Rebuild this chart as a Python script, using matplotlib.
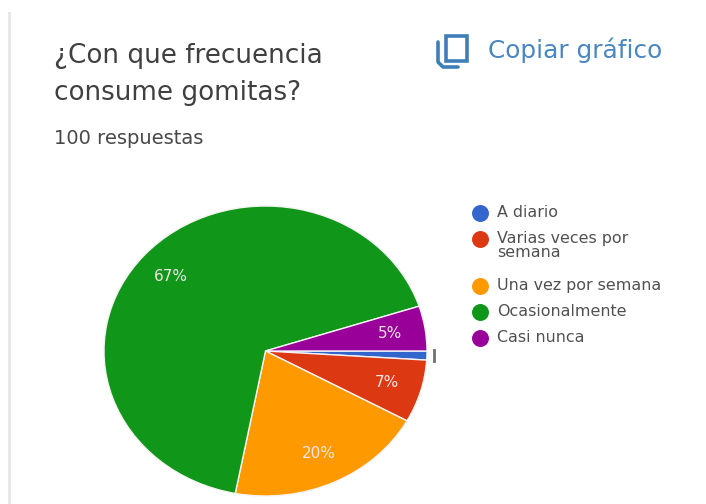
import math
import matplotlib
matplotlib.use("Agg")
import matplotlib.pyplot as plt
from matplotlib.patches import Rectangle

titulo = "¿Con que frecuencia\nconsume gomitas?"
subtitulo = "100 respuestas"
boton = "Copiar gráfico"
categorias = ["A diario", "Varias veces por\nsemana", "Una vez por semana", "Ocasionalmente", "Casi nunca"]
porcentajes = [1, 7, 20, 67, 5]
colores = ["#3366cc", "#dc3912", "#ff9900", "#109618", "#990099"]

ANCHO, ALTO = 706, 504
fig = plt.figure(figsize=(ANCHO / 100, ALTO / 100), dpi=100, facecolor="white")

# capa en pixeles para textos, icono y leyenda
capa = fig.add_axes([0, 0, 1, 1])
capa.set_xlim(0, ANCHO)
capa.set_ylim(ALTO, 0)
capa.axis("off")

capa.plot([9, 9], [13, ALTO], color="#e6e6e6", lw=2)
capa.text(54, 56, titulo.split("\n")[0], fontsize=18.9, family="DejaVu Sans",
          color="#404040", va="center", ha="left")
capa.text(54, 93, titulo.split("\n")[1], fontsize=18.9, family="DejaVu Sans",
          color="#404040", va="center", ha="left")
capa.text(54, 139, subtitulo, fontsize=14, family="DejaVu Sans", color="#484848",
          va="center", ha="left")
capa.text(488, 50, boton, fontsize=17.8, family="DejaVu Sans", color="#4a86c0",
          va="center", ha="left")

# icono de copiar
capa.add_patch(Rectangle((446, 36), 21, 25, fill=False, ec="#3f7fb8", lw=2.6))
capa.plot([438, 438, 443, 458], [42, 62, 67, 67], color="#3f7fb8", lw=2.6,
          solid_capstyle="round")

# leyenda
y = 213
for categoria, color in zip(categorias, colores):
    capa.scatter([480], [y], s=125, color=color, zorder=3)
    capa.text(497, y - 8, categoria, fontsize=11.4, family="DejaVu Sans",
              color="#505050", va="top", ha="left", linespacing=0.95)
    y += 26 + 21 * categoria.count("\n")

# tarta
ax = fig.add_axes([104 / ANCHO, 1 - 496 / ALTO, 323 / ANCHO, 290 / ALTO])
wedges, textos, autotextos = ax.pie(
    porcentajes, colors=colores, startangle=0, counterclock=False,
    autopct=lambda p: f"{p:.0f}%" if p >= 5 else "", pctdistance=0.78,
    wedgeprops={"edgecolor": "#f4f4f4", "linewidth": 1},
    textprops={"fontsize": 11, "family": "DejaVu Sans", "color": "#f3e6e6"},
)
ax.set_aspect("auto")
ax.set_xlim(-1, 1)
ax.set_ylim(-1, 1)

# marca fuera de la tarta para la porcion de 1%
angulo = math.radians(-porcentajes[0] * 3.6 / 2)
ax.plot([1.045 * math.cos(angulo)] * 2,
        [math.sin(angulo) - 0.035, math.sin(angulo) + 0.035],
        color="#707070", lw=2, clip_on=False)

fig.savefig("out.png", dpi=100)
